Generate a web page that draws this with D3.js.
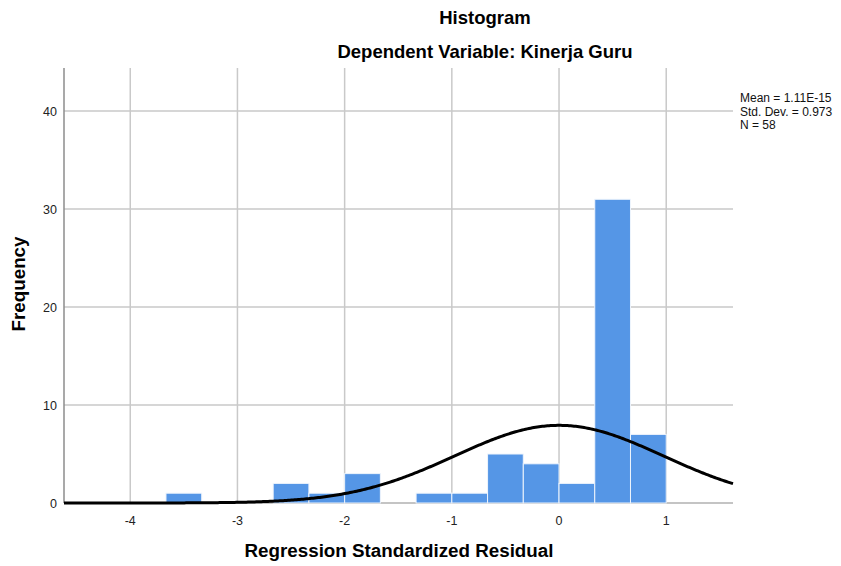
<!DOCTYPE html>
<html>
<head>
<meta charset="utf-8">
<script src="https://cdn.jsdelivr.net/npm/d3@7"></script>
<style>
  html, body { margin: 0; padding: 0; background: #fff; }
  svg { display: block; font-family: "Liberation Sans", Arial, sans-serif; }
</style>
</head>
<body>
<svg id="chart" width="841" height="566"></svg>
<script>
// Histogram of standardized residuals (bin width = 1/3)
const binStarts = [-11/3, -8/3, -7/3, -2, -4/3, -1, -2/3, -1/3, 0, 1/3, 2/3];
const binWidth = 1/3;
const counts   = [1, 2, 1, 3, 1, 1, 5, 4, 2, 31, 7];

const xTicks = [-4, -3, -2, -1, 0, 1];
const yTicks = [0, 10, 20, 30, 40];

const statMean = 1.11e-15;
const statSD = 0.973;
const statN = 58;
const statLines = ["Mean = 1.11E-15", "Std. Dev. = 0.973", "N = 58"];

const svg = d3.select("#chart");
const plotL = 64, plotR = 733, plotT = 68, plotB = 503;

const x = d3.scaleLinear().domain([-4.618, 1.623]).range([plotL, plotR]);
const y = d3.scaleLinear().domain([0, 44.4]).range([plotB, plotT]);

const grid = "#c9c9c9";

// vertical grid lines
svg.append("g").selectAll("line").data(xTicks).join("line")
  .attr("x1", d => x(d)).attr("x2", d => x(d))
  .attr("y1", plotT).attr("y2", plotB)
  .attr("stroke", grid).attr("stroke-width", 1.5);

// horizontal grid lines
svg.append("g").selectAll("line").data(yTicks.slice(1)).join("line")
  .attr("x1", plotL).attr("x2", plotR)
  .attr("y1", d => y(d)).attr("y2", d => y(d))
  .attr("stroke", grid).attr("stroke-width", 1.5);

// baseline
svg.append("line")
  .attr("x1", plotL).attr("x2", plotR).attr("y1", plotB).attr("y2", plotB)
  .attr("stroke", "#b0b0b0").attr("stroke-width", 1.5);

// bars
svg.append("g").selectAll("rect").data(counts).join("rect")
  .attr("x", (d, i) => x(binStarts[i]))
  .attr("width", (d, i) => x(binStarts[i] + binWidth) - x(binStarts[i]))
  .attr("y", d => y(d))
  .attr("height", d => y(0) - y(d))
  .attr("fill", "#5596e6")
  .attr("stroke", "#eef4fc").attr("stroke-width", 1);

// left axis line
svg.append("line")
  .attr("x1", plotL).attr("x2", plotL).attr("y1", plotT).attr("y2", plotB)
  .attr("stroke", "#8c8c8c").attr("stroke-width", 1.5);

// fitted normal curve
const scale = statN * binWidth / (statSD * Math.sqrt(2 * Math.PI));
const pts = d3.range(0, 401).map(i => {
  const v = x.domain()[0] + (x.domain()[1] - x.domain()[0]) * i / 400;
  const z = (v - statMean) / statSD;
  return [v, scale * Math.exp(-0.5 * z * z)];
});
svg.append("path")
  .attr("d", d3.line().x(d => x(d[0])).y(d => y(d[1]))(pts))
  .attr("fill", "none").attr("stroke", "#000").attr("stroke-width", 3);

// tick labels
svg.append("g").selectAll("text").data(xTicks).join("text")
  .attr("x", d => x(d)).attr("y", 525)
  .attr("text-anchor", "middle").attr("font-size", 12.5).attr("fill", "#222")
  .text(d => d);

svg.append("g").selectAll("text").data(yTicks).join("text")
  .attr("x", 57).attr("y", d => y(d) + 4.5)
  .attr("text-anchor", "end").attr("font-size", 12.5).attr("fill", "#222")
  .text(d => d);

// titles
svg.append("text").attr("x", 485).attr("y", 24)
  .attr("text-anchor", "middle").attr("font-size", 18.5).attr("font-weight", "bold")
  .text("Histogram");
svg.append("text").attr("x", 485).attr("y", 58)
  .attr("text-anchor", "middle").attr("font-size", 18.5).attr("font-weight", "bold")
  .text("Dependent Variable: Kinerja Guru");

svg.append("text").attr("x", 399).attr("y", 557)
  .attr("text-anchor", "middle").attr("font-size", 18.8).attr("font-weight", "bold")
  .text("Regression Standardized Residual");

svg.append("text")
  .attr("transform", "translate(25,284) rotate(-90)")
  .attr("text-anchor", "middle").attr("font-size", 18.8).attr("font-weight", "bold")
  .text("Frequency");

// summary statistics
svg.append("g").selectAll("text").data(statLines).join("text")
  .attr("x", 740).attr("y", (d, i) => 102 + i * 13.5)
  .attr("font-size", 12).attr("fill", "#111")
  .text(d => d);
</script>
</body>
</html>
